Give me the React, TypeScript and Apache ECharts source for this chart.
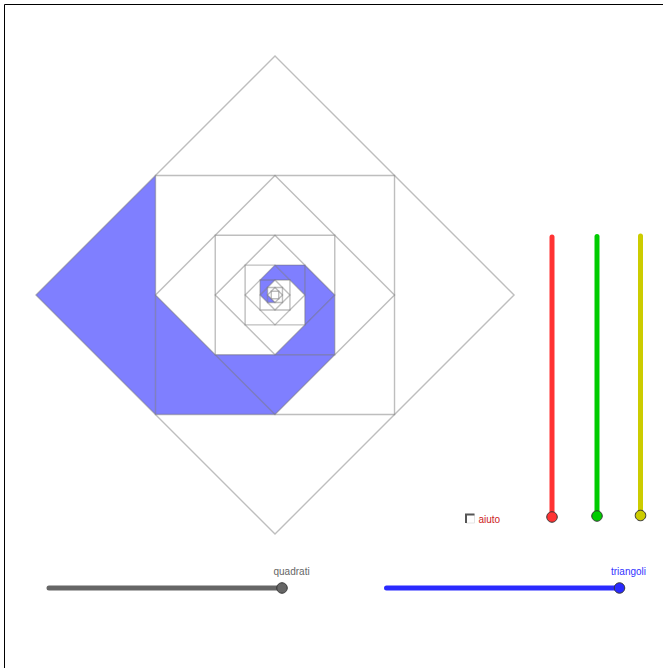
import React, { useEffect, useRef } from "react";
import * as echarts from "echarts";

// Nested figures, half-diagonal / half-side in construction units
const diamondSizes = [16, 8, 4, 2, 1, 0.5];
const squareSizes = [8, 4, 2, 1, 0.5, 0.25];

// Spiral triangles, construction units (y up)
const spiralTriangles: number[][][] = [
  [[-16, 0], [-8, 8], [-8, -8]],
  [[-8, 0], [-8, -8], [0, -8]],
  [[-4, -4], [4, -4], [0, -8]],
  [[0, -4], [4, -4], [4, 0]],
  [[4, 0], [2, 2], [2, -2]],
  [[2, 0], [2, 2], [0, 2]],
  [[0, 2], [1, 1], [-1, 1]],
  [[0, 1], [-1, 1], [-1, 0]],
  [[-1, 0], [-0.5, 0.5], [-0.5, -0.5]],
  [[-0.5, 0], [-0.5, -0.5], [0, -0.5]],
];

// Widgets, page pixels
const verticalSliders = [
  { name: "rosso", color: "#ff3333", x: 552, top: 237, bottom: 517 },
  { name: "verde", color: "#00cc00", x: 597, top: 236.5, bottom: 516 },
  { name: "giallo", color: "#cccc00", x: 640.5, top: 236, bottom: 515.5 },
];
const horizontalSliders = [
  { name: "quadrati", color: "#666666", left: 49, right: 282, y: 588 },
  { name: "triangoli", color: "#2a2aff", left: 386.5, right: 619.5, y: 588 },
];

const PX = 14.94;
const CX = 275;
const CY = 295;
const W = 663;
const H = 668;

function diamond(s: number) {
  return [[0, s], [s, 0], [0, -s], [-s, 0]];
}
function square(s: number) {
  return [[-s, s], [s, s], [s, -s], [-s, -s]];
}

const outlines = [...diamondSizes.map(diamond), ...squareSizes.map(square)];

export default function App() {
  const ref = useRef<HTMLDivElement>(null);
  useEffect(() => {
    document.body.style.margin = "0";
    const chart = echarts.init(ref.current!, undefined, { renderer: "svg", width: W, height: H });

    const polygonSeries = (polys: number[][][], style: any, id: string) => ({
      type: "custom",
      id,
      xAxisIndex: 0,
      yAxisIndex: 0,
      silent: true,
      clip: false,
      data: polys.map((_, i) => [i]),
      renderItem: (params: any, api: any) => {
        const poly = polys[api.value(0)];
        return {
          type: "polygon",
          shape: { points: poly.map((p) => api.coord(p)) },
          style,
        };
      },
    });

    const lineSeries = (points: number[][], color: string, name: string) => ({
      type: "line",
      name,
      xAxisIndex: 1,
      yAxisIndex: 1,
      data: points,
      silent: true,
      symbol: "none",
      lineStyle: { color, width: 5, cap: "round", opacity: 1 },
      z: 3,
    });

    const handle = (x: number, y: number, color: string, name: string) => ({
      type: "scatter",
      name: name + " punto",
      xAxisIndex: 1,
      yAxisIndex: 1,
      silent: true,
      data: [[x, y]],
      symbolSize: 10.5,
      itemStyle: { color, borderColor: "#333333", borderWidth: 1, opacity: 1 },
      z: 4,
    });

    chart.setOption({
      animation: false,
      backgroundColor: "#ffffff",
      grid: [
        { left: 0, top: 0, width: W, height: H },
        { left: 0, top: 0, width: W, height: H },
      ],
      xAxis: [
        { type: "value", gridIndex: 0, min: -CX / PX, max: (W - CX) / PX, show: false },
        { type: "value", gridIndex: 1, min: 0, max: W, show: false },
      ],
      yAxis: [
        { type: "value", gridIndex: 0, min: -(H - CY) / PX, max: CY / PX, show: false },
        { type: "value", gridIndex: 1, min: 0, max: H, inverse: true, show: false },
      ],
      series: [
        polygonSeries(spiralTriangles, { fill: "rgba(0,0,255,0.5)", stroke: "none" }, "spirale"),
        polygonSeries(
          outlines,
          { fill: "none", stroke: "rgba(110,110,110,0.45)", lineWidth: 1.4 },
          "quadrati"
        ),
        ...verticalSliders.flatMap((s) => [
          lineSeries([[s.x, s.top], [s.x, s.bottom]], s.color, s.name),
          handle(s.x, s.bottom, s.color, s.name),
        ]),
        ...horizontalSliders.flatMap((s) => [
          lineSeries([[s.left, s.y], [s.right, s.y]], s.color, s.name),
          handle(s.right, s.y, s.color, s.name),
        ]),
      ],
      graphic: [
        { type: "line", shape: { x1: 4.5, y1: 4.5, x2: W, y2: 4.5 }, style: { stroke: "#000", lineWidth: 1 } },
        { type: "line", shape: { x1: 4.5, y1: 4.5, x2: 4.5, y2: H }, style: { stroke: "#000", lineWidth: 1 } },
        {
          type: "rect",
          shape: { x: 466, y: 514.5, width: 8.5, height: 8.5 },
          style: { fill: "#ffffff", stroke: "#e4e4e4", lineWidth: 1 },
        },
        {
          type: "polyline",
          shape: { points: [[466, 523], [466, 514.5], [474.5, 514.5]] },
          style: { fill: "none", stroke: "#555555", lineWidth: 2 },
        },
        {
          type: "text",
          x: 478.5,
          y: 519.5,
          style: { text: "aiuto", fill: "#cc2222", font: "10px 'Liberation Sans', Arial, sans-serif", textVerticalAlign: "middle" },
        },
        {
          type: "text",
          x: 273.5,
          y: 571.5,
          style: { text: "quadrati", fill: "#666666", font: "10px 'Liberation Sans', Arial, sans-serif", textVerticalAlign: "middle" },
        },
        {
          type: "text",
          x: 611,
          y: 571.5,
          style: { text: "triangoli", fill: "#3333ff", font: "10px 'Liberation Sans', Arial, sans-serif", textVerticalAlign: "middle" },
        },
      ],
    });
    return () => chart.dispose();
  }, []);
  return <div ref={ref} style={{ width: W, height: H }} />;
}
